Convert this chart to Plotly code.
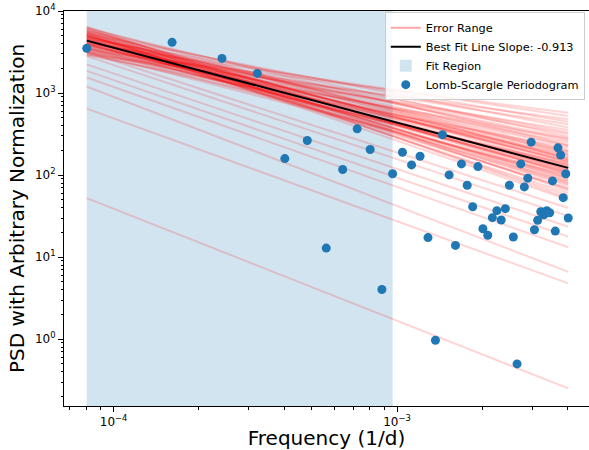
import plotly.graph_objects as go

# ---------------- data ----------------
freq = [8.04e-5, 1.608e-4, 2.412e-4, 3.216e-4, 4.02e-4, 4.824e-4, 5.628e-4, 6.432e-4,
        7.236e-4, 8.04e-4, 8.844e-4, 9.648e-4, 1.0452e-3, 1.1256e-3, 1.206e-3, 1.2864e-3,
        1.3668e-3, 1.4472e-3, 1.5276e-3, 1.608e-3, 1.6884e-3, 1.7688e-3, 1.8492e-3, 1.9296e-3,
        2.01e-3, 2.0904e-3, 2.1708e-3, 2.2512e-3, 2.3316e-3, 2.412e-3, 2.4924e-3, 2.5728e-3,
        2.6532e-3, 2.7336e-3, 2.814e-3, 2.8944e-3, 2.9748e-3, 3.0552e-3, 3.1356e-3, 3.216e-3,
        3.2964e-3, 3.3768e-3, 3.4572e-3, 3.5376e-3, 3.618e-3, 3.6984e-3, 3.7788e-3, 3.8592e-3,
        3.9396e-3, 4.02e-3]
power = [3506, 4150, 2645, 1735, 159, 264, 12.9, 117,
         366, 205, 4.04, 104, 190, 133, 170, 17.3,
         0.97, 310, 100.5, 13.9, 137, 75.3, 41.2, 127,
         22.2, 18.5, 30.3, 36.9, 28.4, 39.0, 75.3, 17.6,
         0.50, 137, 71.8, 91.7, 252, 21.6, 28.1, 35.8,
         32.7, 36.9, 34.8, 84.9, 20.8, 215, 176, 53.1,
         104, 30.0]

fit_region_idx = [0, 11]          # fit uses the first 12 frequencies
best_fit_slope = -0.913
best_fit_start = 4355             # best-fit PSD at the lowest frequency

# error-range sample lines: log10 PSD at lowest and at highest frequency
err_start_log = [3.52, 3.60, 3.47, 3.66, 3.55, 3.72, 3.50, 3.63, 3.58, 3.76,
                 3.49, 3.68, 3.54, 3.79, 3.61, 3.46, 3.70, 3.57, 3.74, 3.51,
                 3.65, 3.80, 3.59, 3.69, 3.48, 3.73, 3.62, 3.56, 3.77, 3.64,
                 3.70, 3.53, 3.78, 3.67, 3.60, 3.75, 3.71, 3.66, 3.81, 3.69,
                 3.74, 3.79, 3.72,
                 3.63, 3.58, 3.71, 3.55, 3.67, 3.61, 3.74, 3.50, 3.65, 3.70,
                 3.59, 3.68, 3.62, 3.76, 3.54, 3.64, 3.72, 3.60, 3.66, 3.69,
                 3.50, 3.45, 3.35, 3.27, 3.19, 3.08, 2.81, 1.72]
err_end_log = [2.76, 2.72, 2.68, 2.65, 2.62, 2.58, 2.55, 2.52, 2.50, 2.47,
               2.44, 2.42, 2.40, 2.37, 2.35, 2.33, 2.30, 2.28, 2.26, 2.24,
               2.22, 2.20, 2.18, 2.16, 2.14, 2.12, 2.10, 2.08, 2.06, 2.04,
               2.02, 2.00, 1.97, 1.95, 1.92, 1.90, 1.87, 1.84, 1.81, 1.78,
               1.75, 1.72, 1.70,
               2.29, 2.21, 2.15, 2.11, 2.07, 2.05, 2.01, 1.99, 1.96, 1.93,
               2.25, 2.36, 2.45, 2.19, 2.13, 1.89, 1.83, 2.03, 2.09, 2.17,
               1.60, 1.50, 1.37, 1.25, 1.12, 0.82, 0.68, -0.60]

x_tickvals = [1e-4, 1e-3]
x_ticktext = ["10<sup>\u22124</sup>", "10<sup>\u22123</sup>"]
y_tickvals = [1, 10, 100, 1000, 10000]
y_ticktext = ["10<sup>0</sup>", "10<sup>1</sup>", "10<sup>2</sup>", "10<sup>3</sup>", "10<sup>4</sup>"]

# ---------------- figure ----------------
FONT = "DejaVu Sans"
fig = go.Figure()

x_ends = [freq[0], freq[-1]]
for a, b in zip(err_start_log, err_end_log):
    fig.add_trace(go.Scatter(
        x=x_ends, y=[10 ** a, 10 ** b], mode="lines",
        line=dict(color="rgba(255,0,0,0.17)", width=2),
        showlegend=False, hoverinfo="skip"))

# legend entry for the error range
fig.add_trace(go.Scatter(
    x=[None], y=[None], mode="lines", name="Error Range",
    line=dict(color="rgba(255,0,0,0.35)", width=2), legendrank=1))

fit_y = [best_fit_start * (f / freq[0]) ** best_fit_slope for f in x_ends]
fig.add_trace(go.Scatter(
    x=x_ends, y=fit_y, mode="lines", name="Best Fit Line Slope: %.3f" % best_fit_slope,
    line=dict(color="black", width=2), legendrank=2))

fig.add_trace(go.Scatter(
    x=freq, y=power, mode="markers", name="Lomb-Scargle Periodogram",
    marker=dict(color="#1f77b4", size=9), legendrank=4))

fig.add_vrect(x0=freq[fit_region_idx[0]], x1=freq[fit_region_idx[1]],
              fillcolor="rgba(31,119,180,0.2)", line_width=0, layer="below",
              showlegend=True, name="Fit Region", legendrank=3)

axis_common = dict(
    type="log", showgrid=False, zeroline=False, automargin=False,
    showline=True, linecolor="black", linewidth=1,
    ticks="outside", ticklen=5, tickwidth=1, tickcolor="black",
    tickfont=dict(family=FONT, size=12, color="black"),
    minor=dict(ticks="outside", ticklen=2.5, tickwidth=1, tickcolor="black",
               dtick="D1", showgrid=False),
)

fig.update_layout(
    width=589, height=450,
    margin=dict(l=64, r=0, t=11, b=44),
    paper_bgcolor="white", plot_bgcolor="white",
    font=dict(family=FONT, color="black"),
    xaxis=dict(axis_common, range=[-4.175, -2.3225], mirror=True,
               tickmode="array", tickvals=x_tickvals, ticktext=x_ticktext,
               title=dict(text="Frequency (1/d)", font=dict(family=FONT, size=20), standoff=2)),
    yaxis=dict(axis_common, range=[-0.814, 4.0],
               tickmode="array", tickvals=y_tickvals, ticktext=y_ticktext,
               title=dict(text="PSD with Arbitrary Normalization", font=dict(family=FONT, size=20),
                          standoff=4)),
    legend=dict(x=0.611, y=0.997, xanchor="left", yanchor="top",
                bgcolor="rgba(255,255,255,0.85)", bordercolor="#cccccc", borderwidth=1,
                font=dict(family=FONT, size=11.3, color="black"),
                tracegroupgap=0, itemwidth=30),
    showlegend=True,
)

fig.write_html("out.html", config={"displayModeBar": False},
               post_script="document.body.style.margin='0';document.body.style.padding='0';")
